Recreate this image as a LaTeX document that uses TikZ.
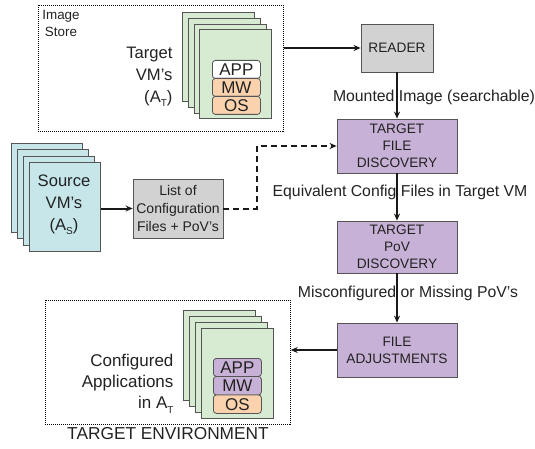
\documentclass[tikz,border=0pt]{standalone}
\usepackage{fontspec}
\setmainfont{Liberation Sans}
\usetikzlibrary{arrows.meta}
\definecolor{vmgreen}{HTML}{D6EBD2}
\definecolor{vmcyan}{HTML}{C6E6EA}
\definecolor{procpurple}{HTML}{C8B1D6}
\definecolor{boxgray}{HTML}{D2D2D2}
\definecolor{layerorange}{HTML}{FAD3AE}
\definecolor{edgegray}{HTML}{555555}
\definecolor{inkdark}{HTML}{222222}
\newcommand{\subsc}[1]{\raisebox{-0.5ex}{\fontsize{10}{10}\selectfont #1}}
\begin{document}
\begin{tikzpicture}[x=1pt,y=-1pt,
  sheet/.style={draw=edgegray, line width=0.8pt, anchor=north west, inner sep=0pt, minimum width=72pt, minimum height=89pt},
  procbox/.style={draw=edgegray, line width=0.8pt, fill=procpurple, align=center, text=inkdark, font=\fontsize{13.7}{17}\selectfont, inner sep=0pt},
  graybox/.style={procbox, fill=boxgray},
  layer/.style={draw=edgegray, line width=0.8pt, rounded corners=3pt, minimum width=48pt, minimum height=18pt, inner sep=0pt, text=inkdark, font=\fontsize{17}{17}\selectfont, anchor=north west},
  flow/.style={line width=2pt, draw=black!90, -{Stealth[length=7pt,width=6pt]}},
  dashflow/.style={line width=2pt, draw=black!90, dash pattern=on 6pt off 4pt, -{Stealth[length=7pt,width=6pt]}},
  areabox/.style={draw=black, line width=0.7pt, dash pattern=on 1pt off 1pt, anchor=north west, inner sep=0pt},
  bigtext/.style={text=inkdark, font=\fontsize{16.6}{22}\selectfont},
  flowlabel/.style={text=inkdark, font=\fontsize{15.8}{18}\selectfont}
]
\useasboundingbox (0,0) rectangle (535,449);

% Image store area
\node[areabox, minimum width=245pt, minimum height=126pt] (store) at (38,5) {};
\node[text=inkdark, align=center, font=\fontsize{13.4}{17}\selectfont] (storelbl) at (61,23) {Image\\Store};
\node[sheet, fill=vmgreen] (t1) at (182,12) {};
\node[sheet, fill=vmgreen] (t2) at (187.8,17.8) {};
\node[sheet, fill=vmgreen] (t3) at (193.6,23.6) {};
\node[sheet, fill=vmgreen] (t4) at (199.4,29.4) {};
\node[layer, fill=white] (tapp) at (212,60) {APP};
\node[layer, fill=layerorange] (tmw) at (212,78) {MW};
\node[layer, fill=layerorange] (tos) at (212,96) {OS};
\node[bigtext, align=right, anchor=east] (ttext) at (176,77) {Target\\VM's\\(A\subsc{T})};

% Source VMs
\node[sheet, fill=vmcyan, minimum width=71pt] (s1) at (11,143) {};
\node[sheet, fill=vmcyan, minimum width=71pt] (s2) at (17,149.3) {};
\node[sheet, fill=vmcyan, minimum width=71pt] (s3) at (23,155.6) {};
\node[sheet, fill=vmcyan, minimum width=71pt] (s4) at (29,162) {};
\node[bigtext, align=center] (stext) at (64,205) {Source\\VM's\\(A\subsc{S})};

% List box
\node[graybox, minimum width=90pt, minimum height=59pt, font=\fontsize{14}{18}\selectfont] (list) at (178,208.5) {List of\\Configuration\\Files + PoV's};

% Process boxes
\node[graybox, minimum width=72pt, minimum height=48pt] (reader) at (397,48) {READER};
\node[procbox, minimum width=120pt, minimum height=54pt] (tfd) at (397,146) {TARGET\\FILE\\DISCOVERY};
\node[procbox, minimum width=120pt, minimum height=52pt] (tpd) at (397,247) {TARGET\\PoV\\DISCOVERY};
\node[procbox, minimum width=120pt, minimum height=54pt] (fa) at (397,350) {FILE\\ADJUSTMENTS};

% Target environment area
\node[areabox, minimum width=245pt, minimum height=124pt] (env) at (45,300) {};
\node[sheet, fill=vmgreen, minimum height=90pt] (e1) at (183,310) {};
\node[sheet, fill=vmgreen, minimum height=90pt] (e2) at (189,316) {};
\node[sheet, fill=vmgreen, minimum height=90pt] (e3) at (195,322) {};
\node[sheet, fill=vmgreen, minimum height=90pt] (e4) at (201,328) {};
\node[layer, fill=procpurple] (eapp) at (213,358) {APP};
\node[layer, fill=procpurple, minimum height=18.5pt] (emw) at (213,376) {MW};
\node[layer, fill=layerorange, minimum height=18.5pt] (eos) at (213,394.5) {OS};
\node[text=inkdark, align=right, anchor=east, font=\fontsize{17}{21}\selectfont] (etext) at (177,384) {Configured\\Applications\\in A\subsc{T}};
\node[text=inkdark, font=\fontsize{17.3}{20}\selectfont] (envlbl) at (168,434) {TARGET ENVIRONMENT};

% Connectors
\coordinate (dk) at (257,0);
\draw[flow] (store.east |- reader.west) -- (reader.west);
\draw[flow] (reader.south) -- (tfd.north);
\draw[flow] (tfd.south) -- (tpd.north);
\draw[flow] (tpd.south) -- (fa.north);
\draw[flow] (fa.west) -- (env.east |- fa.west);
\draw[flow] (s4.east |- list.west) -- (list.west);
\draw[dashflow] (list.east) -| (dk |- tfd.west) -- (tfd.west);

% Connector labels
\node[flowlabel] (lbl1) at (434,97) {Mounted Image (searchable)};
\node[flowlabel] (lbl2) at (400,192) {Equivalent Config Files in Target VM};
\node[flowlabel] (lbl3) at (408,293) {Misconfigured or Missing PoV's};
\end{tikzpicture}
\end{document}
